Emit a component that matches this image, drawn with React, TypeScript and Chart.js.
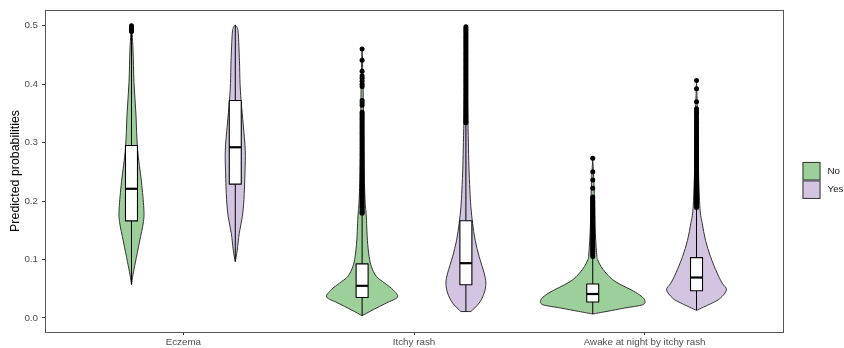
import React, { useEffect, useRef } from "react";
import { Chart, registerables } from "chart.js";

Chart.register(...registerables);

// ---------- data ----------
const categories = ["Eczema", "Itchy rash", "Awake at night by itchy rash"];
const groups = ["No", "Yes"];
const groupColors = ["#9dcf9a", "#d3c5e2"];
const yTicks = [0.0, 0.1, 0.2, 0.3, 0.4, 0.5];

// violin outlines: probability values and relative half-widths (1 = widest violin)
const eczemaNoY = [0.057, 0.074, 0.096, 0.13, 0.165, 0.188, 0.233, 0.29, 0.347, 0.403, 0.46, 0.503];
const eczemaNoW = [0, 0.029, 0.077, 0.154, 0.231, 0.237, 0.192, 0.115, 0.087, 0.048, 0.029, 0];
const eczemaYesY = [0.0965, 0.116, 0.145, 0.173, 0.202, 0.25, 0.287, 0.33, 0.372, 0.401, 0.44, 0.486, 0.497, 0.501];
const eczemaYesW = [0, 0.038, 0.077, 0.135, 0.167, 0.187, 0.192, 0.154, 0.112, 0.092, 0.081, 0.058, 0.035, 0];
const itchyNoY = [0.0039, 0.0141, 0.0256, 0.0358, 0.0482, 0.0596, 0.071, 0.088, 0.105, 0.133, 0.162, 0.179, 0.2, 0.25, 0.3, 0.4, 0.46];
const itchyNoW = [0, 0.212, 0.467, 0.683, 0.596, 0.437, 0.275, 0.179, 0.135, 0.102, 0.087, 0.077, 0.058, 0.038, 0.029, 0.019, 0];
const itchyYesY = [0.011, 0.0256, 0.0426, 0.0596, 0.0767, 0.105, 0.133, 0.162, 0.19, 0.219, 0.26, 0.3, 0.35, 0.4, 0.45, 0.498];
const itchyYesW = [0.096, 0.256, 0.352, 0.385, 0.352, 0.256, 0.179, 0.129, 0.096, 0.077, 0.058, 0.048, 0.035, 0.023, 0.015, 0];
const awakeNoY = [0.0068, 0.0113, 0.017, 0.0227, 0.031, 0.0398, 0.0482, 0.0568, 0.0653, 0.0767, 0.088, 0.0994, 0.108, 0.15, 0.2, 0.24, 0.273];
const awakeNoW = [0, 0.275, 0.615, 0.962, 1.0, 0.898, 0.737, 0.544, 0.385, 0.256, 0.16, 0.096, 0.077, 0.048, 0.035, 0.019, 0];
const awakeYesY = [0.013, 0.0256, 0.034, 0.0482, 0.0596, 0.0767, 0.105, 0.133, 0.162, 0.187, 0.25, 0.3, 0.35, 0.405];
const awakeYesW = [0, 0.302, 0.462, 0.577, 0.494, 0.398, 0.269, 0.173, 0.11, 0.067, 0.038, 0.029, 0.019, 0];

// box statistics: [lower whisker, Q1, median, Q3, upper whisker]
const eczemaNoBox = [0.057, 0.166, 0.221, 0.295, 0.489];
const eczemaYesBox = [0.0965, 0.229, 0.292, 0.372, 0.501];
const itchyNoBox = [0.004, 0.035, 0.055, 0.0925, 0.178];
const itchyYesBox = [0.011, 0.0568, 0.0937, 0.1664, 0.333];
const awakeNoBox = [0.0068, 0.0273, 0.041, 0.058, 0.104];
const awakeYesBox = [0.013, 0.0465, 0.0692, 0.1033, 0.187];

// outliers
const eczemaNoOut = [0.49, 0.492, 0.494, 0.496, 0.498, 0.5];
const eczemaYesOut: number[] = [];
const itchyNoOut = [
  0.46, 0.441, 0.422, 0.414, 0.41, 0.405, 0.4, 0.396, 0.372, 0.368, 0.364,
  0.352, 0.349, 0.346, 0.343, 0.34, 0.337, 0.334, 0.331, 0.328, 0.325, 0.322, 0.319, 0.316, 0.313,
  0.31, 0.307, 0.304, 0.301, 0.298, 0.295, 0.292, 0.289, 0.286, 0.283, 0.28, 0.277, 0.274, 0.271,
  0.268, 0.265, 0.262, 0.259, 0.256, 0.253, 0.25, 0.247, 0.244, 0.241, 0.238, 0.235, 0.232, 0.229,
  0.226, 0.223, 0.22, 0.217, 0.214, 0.211, 0.208, 0.205, 0.202, 0.199, 0.196, 0.193, 0.19, 0.187,
  0.184, 0.181, 0.179,
];
const itchyYesOut = [
  0.498, 0.495, 0.492, 0.489, 0.486, 0.483, 0.48, 0.477, 0.474, 0.471, 0.468, 0.465, 0.462, 0.459,
  0.456, 0.453, 0.45, 0.447, 0.444, 0.441, 0.438, 0.435, 0.432, 0.429, 0.426, 0.423, 0.42, 0.417,
  0.414, 0.411, 0.408, 0.405, 0.402, 0.399, 0.396, 0.393, 0.39, 0.387, 0.384, 0.381, 0.378, 0.375,
  0.372, 0.369, 0.366, 0.363, 0.36, 0.357, 0.354, 0.351, 0.348, 0.345, 0.342, 0.339, 0.336, 0.334,
];
const awakeNoOut = [
  0.273, 0.25, 0.236, 0.222, 0.207, 0.204, 0.201, 0.198, 0.195, 0.192, 0.189, 0.186, 0.183, 0.18,
  0.177, 0.174, 0.171, 0.168, 0.165, 0.162, 0.159, 0.156, 0.153, 0.15, 0.147, 0.144, 0.141, 0.138,
  0.135, 0.132, 0.129, 0.126, 0.123, 0.12, 0.117, 0.114, 0.111, 0.108, 0.105,
];
const awakeYesOut = [
  0.406, 0.392, 0.37, 0.358, 0.354, 0.35, 0.346, 0.341, 0.337, 0.333, 0.329, 0.325, 0.321, 0.317,
  0.313, 0.309, 0.305, 0.301, 0.297, 0.293, 0.289, 0.285, 0.282, 0.279, 0.276, 0.273, 0.27, 0.267,
  0.264, 0.261, 0.258, 0.255, 0.252, 0.249, 0.246, 0.243, 0.24, 0.237, 0.234, 0.231, 0.228, 0.225,
  0.222, 0.219, 0.216, 0.213, 0.21, 0.207, 0.204, 0.201, 0.198, 0.195, 0.192, 0.189,
];

type Violin = { cat: number; group: number; ys: number[]; ws: number[]; box: number[]; out: number[] };
const violins: Violin[] = [
  { cat: 0, group: 0, ys: eczemaNoY, ws: eczemaNoW, box: eczemaNoBox, out: eczemaNoOut },
  { cat: 0, group: 1, ys: eczemaYesY, ws: eczemaYesW, box: eczemaYesBox, out: eczemaYesOut },
  { cat: 1, group: 0, ys: itchyNoY, ws: itchyNoW, box: itchyNoBox, out: itchyNoOut },
  { cat: 1, group: 1, ys: itchyYesY, ws: itchyYesW, box: itchyYesBox, out: itchyYesOut },
  { cat: 2, group: 0, ys: awakeNoY, ws: awakeNoW, box: awakeNoBox, out: awakeNoOut },
  { cat: 2, group: 1, ys: awakeYesY, ws: awakeYesW, box: awakeYesBox, out: awakeYesOut },
];

// ---------- layout / style constants ----------
const DODGE = 0.225;
const MAX_HALF = 0.225;
const BOX_HALF = 0.026;
const FONT = "'Liberation Sans', Arial, Helvetica, sans-serif";

const xOf = (v: Violin) => v.cat + 1 + (v.group === 0 ? -DODGE : DODGE);

function smoothPath(ctx: CanvasRenderingContext2D, pts: [number, number][], moveFirst: boolean) {
  if (moveFirst) ctx.moveTo(pts[0][0], pts[0][1]);
  else ctx.lineTo(pts[0][0], pts[0][1]);
  for (let i = 0; i < pts.length - 1; i++) {
    const p0 = pts[Math.max(0, i - 1)];
    const p1 = pts[i];
    const p2 = pts[i + 1];
    const p3 = pts[Math.min(pts.length - 1, i + 2)];
    const c1x = p1[0] + (p2[0] - p0[0]) / 6;
    const c1y = p1[1] + (p2[1] - p0[1]) / 6;
    const c2x = p2[0] - (p3[0] - p1[0]) / 6;
    const c2y = p2[1] - (p3[1] - p1[1]) / 6;
    ctx.bezierCurveTo(c1x, c1y, c2x, c2y, p2[0], p2[1]);
  }
}

const violinPlugin = {
  id: "violins",
  beforeDatasetsDraw(chart: any) {
    const ctx: CanvasRenderingContext2D = chart.ctx;
    const xs = chart.scales.x;
    const ys = chart.scales.y;
    const unit = xs.getPixelForValue(1) - xs.getPixelForValue(0);
    ctx.save();
    for (const v of violins) {
      const xc = xs.getPixelForValue(xOf(v));
      const right: [number, number][] = v.ys.map((y, i) => [xc + v.ws[i] * MAX_HALF * unit, ys.getPixelForValue(y)]);
      const left: [number, number][] = v.ys
        .map((y, i) => [xc - v.ws[i] * MAX_HALF * unit, ys.getPixelForValue(y)] as [number, number])
        .reverse();
      ctx.beginPath();
      smoothPath(ctx, right, true);
      smoothPath(ctx, left, false);
      ctx.closePath();
      ctx.fillStyle = groupColors[v.group];
      ctx.fill();
      ctx.lineWidth = 1;
      ctx.strokeStyle = "#333333";
      ctx.lineJoin = "round";
      ctx.stroke();

      const [lo, q1, med, q3, hi] = v.box.map((b) => ys.getPixelForValue(b));
      const bw = BOX_HALF * unit;
      // whiskers
      ctx.beginPath();
      ctx.moveTo(xc, lo);
      ctx.lineTo(xc, q1);
      ctx.moveTo(xc, q3);
      ctx.lineTo(xc, hi);
      ctx.lineWidth = 1;
      ctx.strokeStyle = "#000000";
      ctx.stroke();
      // box
      ctx.fillStyle = "#ffffff";
      ctx.fillRect(xc - bw, q3, 2 * bw, q1 - q3);
      ctx.lineWidth = 1.1;
      ctx.strokeRect(xc - bw, q3, 2 * bw, q1 - q3);
      // median
      ctx.beginPath();
      ctx.moveTo(xc - bw, med);
      ctx.lineTo(xc + bw, med);
      ctx.lineWidth = 2.2;
      ctx.stroke();
    }
    ctx.restore();
  },
  afterDraw(chart: any) {
    const ctx: CanvasRenderingContext2D = chart.ctx;
    const a = chart.chartArea;
    ctx.save();
    // panel border
    ctx.strokeStyle = "#555555";
    ctx.lineWidth = 1;
    ctx.strokeRect(Math.round(a.left) + 0.5, Math.round(a.top) + 0.5, Math.round(a.right - a.left), Math.round(a.bottom - a.top));
    // legend
    const keyW = 18;
    const keyH = 18.5;
    const kx = a.right + 19.5;
    const ky = (a.top + a.bottom) / 2 - 9;
    ctx.font = `9.8px ${FONT}`;
    ctx.textBaseline = "middle";
    ctx.textAlign = "left";
    groups.forEach((g, i) => {
      const y = ky + i * keyH;
      ctx.fillStyle = groupColors[i];
      ctx.fillRect(kx, y, keyW, keyH);
      ctx.strokeStyle = "#333333";
      ctx.lineWidth = 1;
      ctx.strokeRect(kx + 0.5, y + 0.5, keyW - 1, keyH - 1);
      ctx.fillStyle = "#1a1a1a";
      ctx.fillText(g, kx + keyW + 7, y + keyH / 2);
    });
    ctx.restore();
  },
};

export default function App() {
  const ref = useRef<HTMLCanvasElement | null>(null);
  useEffect(() => {
    if (!ref.current) return;
    const datasets = violins
      .filter((v) => v.out.length > 0)
      .map((v) => ({
        label: `${categories[v.cat]} ${groups[v.group]}`,
        data: v.out.map((o) => ({ x: xOf(v), y: o })),
        pointRadius: 2.5,
        pointBackgroundColor: "#000000",
        pointBorderWidth: 0,
        showLine: false,
      }));
    const chart = new Chart(ref.current, {
      type: "scatter",
      data: { datasets },
      options: {
        animation: false,
        responsive: false,
        events: [],
        layout: { padding: { top: 9, right: 61, left: 0, bottom: 0 } },
        plugins: { legend: { display: false }, tooltip: { enabled: false } },
        scales: {
          x: {
            type: "linear",
            min: 0.4,
            max: 3.6,
            afterBuildTicks: (s: any) => {
              s.ticks = categories.map((_, i) => ({ value: i + 1 }));
            },
            afterFit: (s: any) => {
              s.height = 16;
            },
            grid: { drawOnChartArea: false, drawTicks: true, tickLength: 3, color: "#333333" },
            border: { display: false },
            ticks: {
              padding: 1,
              autoSkip: false,
              maxRotation: 0,
              color: "#4d4d4d",
              font: { size: 9.8, family: FONT },
              callback: (v: any) => categories[Math.round(Number(v)) - 1] ?? "",
            },
          },
          y: {
            type: "linear",
            min: -0.024,
            max: 0.527,
            afterBuildTicks: (s: any) => {
              s.ticks = yTicks.map((t) => ({ value: t }));
            },
            afterFit: (s: any) => {
              s.width = 45;
            },
            grid: { drawOnChartArea: false, drawTicks: true, tickLength: 3, color: "#333333" },
            border: { display: false },
            title: {
              display: true,
              text: "Predicted probabilities",
              color: "#000000",
              font: { size: 12.4, family: FONT },
              padding: { top: 8, bottom: 0 },
            },
            ticks: {
              padding: 4,
              color: "#4d4d4d",
              font: { size: 9.8, family: FONT },
              callback: (v: any) => Number(v).toFixed(1),
            },
          },
        },
      },
      plugins: [violinPlugin],
    });
    return () => chart.destroy();
  }, []);
  return (
    <div style={{ position: "absolute", left: 0, top: 0, width: 844, height: 348, background: "#ffffff" }}>
      <canvas ref={ref} width={844} height={348} />
    </div>
  );
}
